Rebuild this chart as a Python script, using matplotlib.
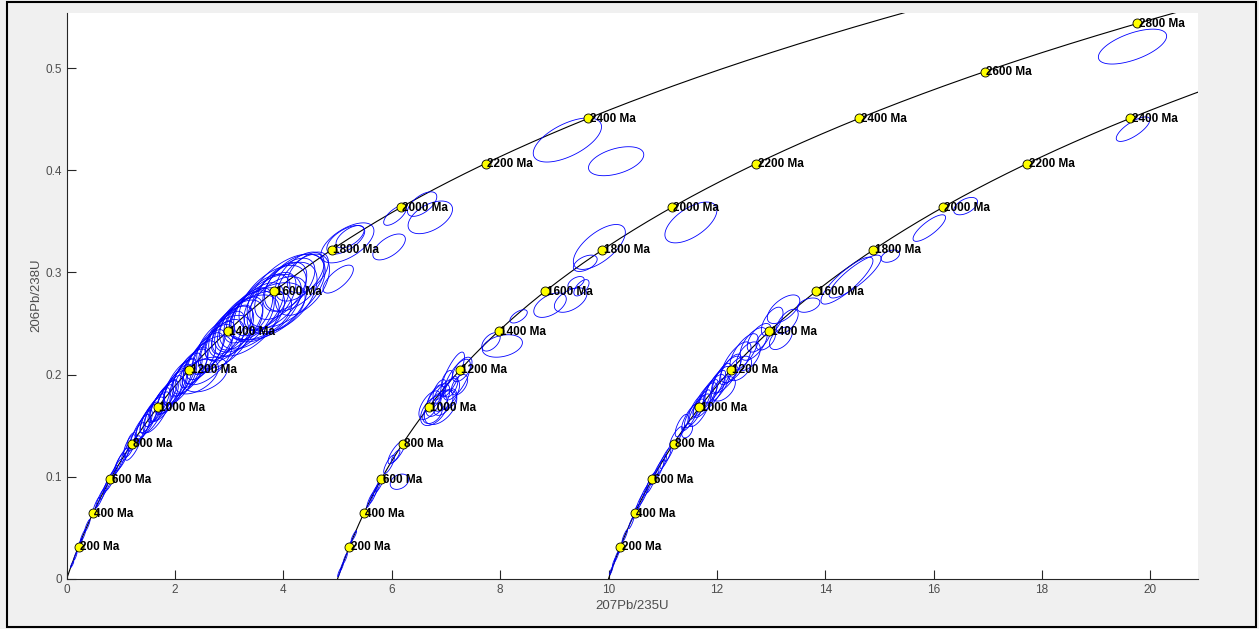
import numpy as np
import matplotlib
matplotlib.use("Agg")
import matplotlib.pyplot as plt
from matplotlib.collections import LineCollection
from matplotlib.patches import Rectangle

# decay constants (1/yr) for the concordia
L235 = 9.8485e-10
L238 = 1.55125e-10

# each sample is plotted with a 207/235 offset so the three concordias sit side by side
offsets = [0, 5, 10]
label_ages = [
    [200, 400, 600, 800, 1000, 1200, 1400, 1600, 1800, 2000, 2200, 2400],
    [200, 400, 600, 800, 1000, 1200, 1400, 1600, 1800, 2000, 2200, 2400, 2600, 2800],
    [200, 400, 600, 800, 1000, 1200, 1400, 1600, 1800, 2000, 2200, 2400],
]

# error ellipses: 207Pb/235U, 2s, 206Pb/238U, 2s, rho
ell1 = [
    (0.10, 0.03, 0.014, 0.003, 0.9), (0.16, 0.03, 0.022, 0.004, 0.9),
    (0.25, 0.04, 0.035, 0.005, 0.9), (0.30, 0.05, 0.042, 0.006, 0.9),
    (0.38, 0.05, 0.052, 0.006, 0.9), (0.55, 0.06, 0.073, 0.007, 0.9),
    (0.62, 0.08, 0.079, 0.009, 0.9), (0.68, 0.07, 0.085, 0.008, 0.9),
    (0.75, 0.08, 0.092, 0.009, 0.9), (0.80, 0.10, 0.096, 0.010, 0.85),
    (0.86, 0.08, 0.103, 0.008, 0.9), (0.92, 0.09, 0.108, 0.009, 0.9),
    (0.97, 0.10, 0.113, 0.010, 0.85), (1.02, 0.12, 0.117, 0.011, 0.85),
    (1.10, 0.09, 0.124, 0.009, 0.85), (1.16, 0.11, 0.130, 0.011, 0.7),
    (1.20, 0.09, 0.134, 0.009, 0.5), (1.22, 0.14, 0.128, 0.012, 0.8),
    (1.30, 0.15, 0.140, 0.013, 0.8), (1.36, 0.18, 0.145, 0.016, 0.8),
    (1.42, 0.16, 0.150, 0.015, 0.8), (1.48, 0.20, 0.154, 0.017, 0.8),
    (1.52, 0.17, 0.158, 0.015, 0.8), (1.58, 0.22, 0.160, 0.018, 0.75),
    (1.62, 0.18, 0.165, 0.016, 0.8), (1.66, 0.25, 0.163, 0.020, 0.75),
    (1.70, 0.20, 0.170, 0.017, 0.8), (1.75, 0.22, 0.172, 0.018, 0.75),
    (1.80, 0.26, 0.174, 0.020, 0.75), (1.84, 0.20, 0.178, 0.017, 0.8),
    (1.90, 0.24, 0.180, 0.019, 0.75), (1.95, 0.28, 0.183, 0.021, 0.75),
    (2.00, 0.22, 0.188, 0.018, 0.75), (2.05, 0.26, 0.190, 0.020, 0.75),
    (2.10, 0.30, 0.193, 0.022, 0.7), (2.15, 0.24, 0.197, 0.019, 0.75),
    (2.22, 0.28, 0.200, 0.021, 0.7), (2.28, 0.32, 0.203, 0.022, 0.7),
    (2.35, 0.26, 0.207, 0.020, 0.7), (2.40, 0.40, 0.198, 0.017, 0.5),
    (2.55, 0.42, 0.200, 0.017, 0.4), (2.45, 0.30, 0.212, 0.021, 0.7),
    (2.55, 0.34, 0.218, 0.023, 0.7), (2.62, 0.30, 0.222, 0.022, 0.7),
    (2.70, 0.38, 0.225, 0.024, 0.65), (2.78, 0.32, 0.230, 0.022, 0.7),
    (2.85, 0.42, 0.228, 0.026, 0.6), (2.92, 0.36, 0.238, 0.024, 0.65),
    (3.00, 0.45, 0.240, 0.027, 0.6), (3.05, 0.38, 0.244, 0.024, 0.65),
    (3.12, 0.50, 0.245, 0.028, 0.6), (3.20, 0.42, 0.250, 0.026, 0.6),
    (3.28, 0.55, 0.252, 0.030, 0.6), (3.35, 0.45, 0.258, 0.027, 0.6),
    (3.42, 0.60, 0.255, 0.030, 0.55), (3.50, 0.50, 0.262, 0.028, 0.6),
    (3.55, 0.60, 0.258, 0.024, 0.45), (3.60, 0.52, 0.268, 0.030, 0.6),
    (3.68, 0.65, 0.265, 0.033, 0.55), (3.75, 0.48, 0.272, 0.028, 0.6),
    (3.80, 0.62, 0.275, 0.032, 0.55), (3.88, 0.55, 0.268, 0.028, 0.5),
    (3.95, 0.48, 0.282, 0.028, 0.55), (4.00, 0.62, 0.276, 0.034, 0.5),
    (4.10, 0.48, 0.288, 0.026, 0.55), (4.20, 0.55, 0.290, 0.028, 0.5),
    (4.30, 0.45, 0.296, 0.024, 0.55), (4.45, 0.38, 0.300, 0.020, 0.5),
    (3.70, 0.70, 0.262, 0.028, 0.5), (4.05, 0.72, 0.282, 0.036, 0.55),
    (3.30, 0.62, 0.248, 0.030, 0.55), (4.35, 0.50, 0.288, 0.030, 0.5),
    (2.90, 0.50, 0.232, 0.026, 0.55), (2.60, 0.45, 0.214, 0.024, 0.6),
    (5.01, 0.28, 0.2935, 0.0137, 0.7), (5.18, 0.49, 0.329, 0.0196, 0.6),
    (5.23, 0.26, 0.335, 0.011, 0.6), (5.15, 0.35, 0.332, 0.014, 0.6),
    (5.95, 0.30, 0.325, 0.0127, 0.6), (6.06, 0.21, 0.356, 0.0098, 0.7),
    (6.71, 0.41, 0.354, 0.016, 0.5), (6.56, 0.27, 0.367, 0.012, 0.6),
    (9.24, 0.63, 0.4298, 0.0216, 0.6), (10.14, 0.51, 0.409, 0.0142, 0.45),
]
ell2 = [
    (5.03, 0.03, 0.006, 0.004, 0.9), (5.08, 0.03, 0.012, 0.004, 0.9),
    (5.14, 0.04, 0.020, 0.005, 0.9), (5.22, 0.04, 0.032, 0.005, 0.9),
    (5.30, 0.05, 0.042, 0.005, 0.9), (5.60, 0.06, 0.077, 0.007, 0.9),
    (5.66, 0.07, 0.082, 0.008, 0.9), (5.72, 0.06, 0.088, 0.007, 0.9),
    (5.78, 0.08, 0.093, 0.008, 0.9), (6.09, 0.16, 0.124, 0.0115, 0.8),
    (6.07, 0.08, 0.120, 0.006, 0.8), (6.14, 0.17, 0.095, 0.0075, 0.3),
    (5.95, 0.10, 0.112, 0.009, 0.8),
    (6.70, 0.20, 0.170, 0.014, 0.6), (6.78, 0.25, 0.165, 0.015, 0.5),
    (6.85, 0.22, 0.175, 0.016, 0.6), (6.90, 0.30, 0.168, 0.017, 0.5),
    (6.95, 0.18, 0.172, 0.012, 0.5), (6.80, 0.15, 0.178, 0.012, 0.7),
    (7.00, 0.25, 0.180, 0.016, 0.6), (7.05, 0.15, 0.176, 0.010, 0.4),
    (6.75, 0.18, 0.162, 0.010, 0.4), (6.88, 0.12, 0.185, 0.010, 0.6),
    (7.12, 0.22, 0.200, 0.022, 0.8), (7.20, 0.25, 0.195, 0.020, 0.7),
    (7.25, 0.15, 0.190, 0.010, 0.5), (7.30, 0.18, 0.205, 0.012, 0.6),
    (7.10, 0.12, 0.188, 0.010, 0.6), (7.02, 0.10, 0.196, 0.008, 0.6),
    (8.04, 0.37, 0.228, 0.011, 0.3), (7.83, 0.17, 0.232, 0.009, 0.5),
    (8.34, 0.16, 0.257, 0.0065, 0.6),
    (8.92, 0.30, 0.268, 0.012, 0.5), (9.30, 0.30, 0.273, 0.012, 0.5),
    (9.50, 0.14, 0.285, 0.008, 0.6),
    (9.83, 0.48, 0.325, 0.022, 0.65), (9.57, 0.22, 0.309, 0.008, 0.5),
    (9.40, 0.15, 0.290, 0.006, 0.5),
    (11.52, 0.48, 0.349, 0.020, 0.6),
    (19.67, 0.63, 0.5213, 0.0171, 0.6),
]
ell3 = [
    (10.05, 0.03, 0.008, 0.004, 0.9), (10.10, 0.03, 0.016, 0.004, 0.9),
    (10.15, 0.04, 0.022, 0.005, 0.9), (10.22, 0.04, 0.030, 0.005, 0.9),
    (10.30, 0.05, 0.042, 0.006, 0.9), (10.42, 0.05, 0.055, 0.006, 0.9),
    (10.50, 0.06, 0.066, 0.007, 0.9), (10.58, 0.07, 0.075, 0.008, 0.9),
    (10.65, 0.08, 0.082, 0.009, 0.9), (10.72, 0.07, 0.089, 0.008, 0.9),
    (10.78, 0.09, 0.094, 0.010, 0.85), (10.85, 0.08, 0.100, 0.008, 0.85),
    (10.92, 0.10, 0.106, 0.010, 0.85), (10.98, 0.09, 0.112, 0.009, 0.85),
    (11.05, 0.10, 0.118, 0.010, 0.85), (11.12, 0.09, 0.124, 0.009, 0.85),
    (11.25, 0.12, 0.139, 0.010, 0.8), (11.35, 0.12, 0.150, 0.011, 0.7),
    (11.45, 0.10, 0.145, 0.007, 0.4),
    (11.50, 0.15, 0.158, 0.013, 0.8), (11.58, 0.18, 0.162, 0.014, 0.8),
    (11.62, 0.14, 0.168, 0.012, 0.8), (11.68, 0.20, 0.165, 0.016, 0.75),
    (11.72, 0.16, 0.172, 0.013, 0.8), (11.78, 0.22, 0.175, 0.017, 0.75),
    (11.84, 0.18, 0.180, 0.015, 0.8), (11.90, 0.25, 0.182, 0.018, 0.75),
    (11.96, 0.20, 0.188, 0.016, 0.8), (12.02, 0.24, 0.190, 0.018, 0.75),
    (12.08, 0.18, 0.196, 0.015, 0.75), (12.12, 0.22, 0.186, 0.012, 0.5),
    (12.18, 0.26, 0.200, 0.018, 0.75), (12.25, 0.20, 0.205, 0.015, 0.7),
    (12.35, 0.28, 0.212, 0.020, 0.7), (12.42, 0.22, 0.206, 0.012, 0.5),
    (12.50, 0.26, 0.222, 0.018, 0.7), (12.58, 0.22, 0.218, 0.014, 0.5),
    (12.68, 0.25, 0.230, 0.016, 0.6), (12.78, 0.22, 0.236, 0.014, 0.6),
    (12.90, 0.18, 0.234, 0.010, 0.5), (13.02, 0.20, 0.252, 0.014, 0.6),
    (13.18, 0.21, 0.2355, 0.011, 0.5), (13.23, 0.30, 0.264, 0.014, 0.6),
    (13.30, 0.20, 0.252, 0.012, 0.6), (13.69, 0.21, 0.268, 0.007, 0.4),
    (14.40, 0.48, 0.292, 0.023, 0.85), (14.55, 0.48, 0.296, 0.021, 0.85),
    (15.20, 0.17, 0.316, 0.006, 0.4), (15.92, 0.30, 0.3435, 0.013, 0.8),
    (16.59, 0.22, 0.365, 0.0085, 0.5), (19.68, 0.31, 0.4404, 0.012, 0.75),
]


def concordia(t_ma):
    t = np.asarray(t_ma) * 1e6
    return np.exp(L235 * t) - 1, np.exp(L238 * t) - 1


def ellipse(x, sx, y, sy, rho):
    th = np.linspace(0, 2 * np.pi, 120)
    ex = x + sx * np.cos(th)
    ey = y + sy * (rho * np.cos(th) + np.sqrt(1 - rho ** 2) * np.sin(th))
    return np.column_stack([ex, ey])


fig = plt.figure(figsize=(12.59, 6.29), dpi=100, facecolor='#f0f0f0')
ax = fig.add_axes([0.053, 0.080, 0.8986, 0.8998])
ax.set_facecolor('white')

t_line = np.linspace(0, 3000, 601)
for off in offsets:
    cx, cy = concordia(t_line)
    ax.plot(cx + off, cy, color='black', lw=0.8, zorder=2)

segs = [ellipse(*e) for e in ell1 + ell2 + ell3]
ax.add_collection(LineCollection(segs, colors='#0000ff', linewidths=0.6, zorder=3))

for off, ages in zip(offsets, label_ages):
    mx, my = concordia(ages)
    ax.plot(mx + off, my, 'o', ms=6.5, mfc='#ffff00', mec='black', mew=0.6, zorder=4)
    for a, px, py in zip(ages, mx + off, my):
        ax.annotate(f'{a} Ma', (px, py), xytext=(1.0, -0.3), textcoords='offset points',
                    ha='left', va='center', fontsize=8.5, fontweight='bold',
                    family='Liberation Sans', zorder=5)

ax.set_xlim(0, 20.88)
ax.set_ylim(0, 0.5545)
ax.set_xticks(np.arange(0, 21, 2))
ax.set_yticks([0, 0.1, 0.2, 0.3, 0.4, 0.5])
ax.set_yticklabels(['0', '0.1', '0.2', '0.3', '0.4', '0.5'])
for s in ['top', 'right']:
    ax.spines[s].set_visible(False)
for s in ['left', 'bottom']:
    ax.spines[s].set_color('#262626')
    ax.spines[s].set_linewidth(0.8)
ax.tick_params(direction='in', length=6.5, width=0.8, color='#262626',
               labelcolor='#4d4d4d', labelsize=8.5)
for lab in ax.get_xticklabels() + ax.get_yticklabels():
    lab.set_family('Liberation Sans')
ax.set_xlabel('207Pb/235U', fontsize=9.5, color='#4d4d4d', family='Liberation Sans', labelpad=3)
ax.set_ylabel('206Pb/238U', fontsize=9.5, color='#4d4d4d', family='Liberation Sans', labelpad=2)

# screenshot frame
fig.patches.append(Rectangle((0.0056, 0.0032), 0.992, 0.9944, transform=fig.transFigure,
                             fill=False, edgecolor='black', lw=1.5))

fig.savefig('out.png', dpi=100, facecolor=fig.get_facecolor())
